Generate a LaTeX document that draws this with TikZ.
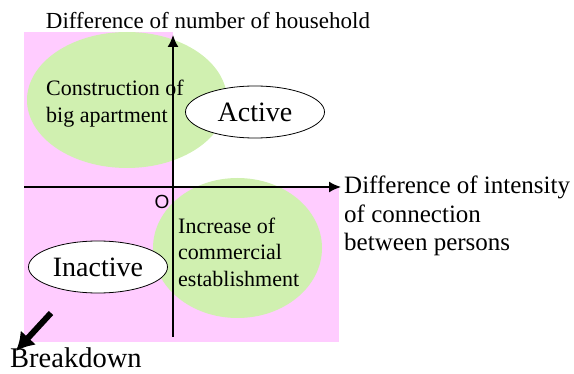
\documentclass[tikz,border=0pt]{standalone}
\usepackage{fontspec}
\setmainfont{Liberation Serif}
\newfontfamily\originfont{Liberation Sans}
\usetikzlibrary{arrows.meta,positioning,shapes.geometric}
\definecolor{quadpink}{RGB}{255,204,255}
\definecolor{blobgreen}{RGB}{208,240,176}
\begin{document}
\begin{tikzpicture}[x=1pt,y=-1pt,>=Latex,every node/.style={inner sep=0pt,align=left},
  axis/.style={line width=1.6pt,-{Latex[length=12pt,width=11pt]}},
  state/.style={draw,ellipse,fill=white,line width=0.8pt,font=\fontsize{28}{30}\selectfont}]
\useasboundingbox (0,0) rectangle (574,374);
\fill[quadpink] (24,32) rectangle (173,187);
\fill[quadpink] (24,187) rectangle (339,342);
\fill[blobgreen] (127,100) ellipse [x radius=100,y radius=68];
\fill[blobgreen] (237.5,248) ellipse [x radius=84.5,y radius=70];
\node[anchor=west,font=\fontsize{22}{27}\selectfont] (apart) at (46,104) {Construction of\\big apartment};
\node[anchor=west,font=\fontsize{22}{26.5}\selectfont] (commerce) at (178,252) {Increase of\\commercial\\establishment};
\coordinate (xstart) at (24,187);
\coordinate (xend) at (341,187);
\coordinate (ystart) at (173,337);
\coordinate (yend) at (173,35);
\draw[axis] (xstart)--(xend);
\draw[axis] (ystart)--(yend);
\node[state,minimum width=139pt,minimum height=52pt] (active) at (255,112) {Active};
\node[state,minimum width=139pt,minimum height=52pt] (inactive) at (98,267) {Inactive};
\node[font=\originfont\fontsize{19}{19}\selectfont] (origin) at (162,202) {O};
\node[font=\fontsize{23}{26}\selectfont] (ylabel) at (208,21) {Difference of number of household};
\node[anchor=west,font=\fontsize{25}{28.5}\selectfont] (xlabel) at (344,216) {Difference of intensity\\of connection\\between persons};
\node[anchor=base west,font=\fontsize{28.5}{30}\selectfont] (breakdown) at (10,368) {Breakdown};
\coordinate (bdtail) at (51,313);
\coordinate (bdtip) at (16,351);
\draw[line width=6pt,-{Latex[length=18pt,width=21pt]}] (bdtail)--(bdtip);
\end{tikzpicture}
\end{document}
